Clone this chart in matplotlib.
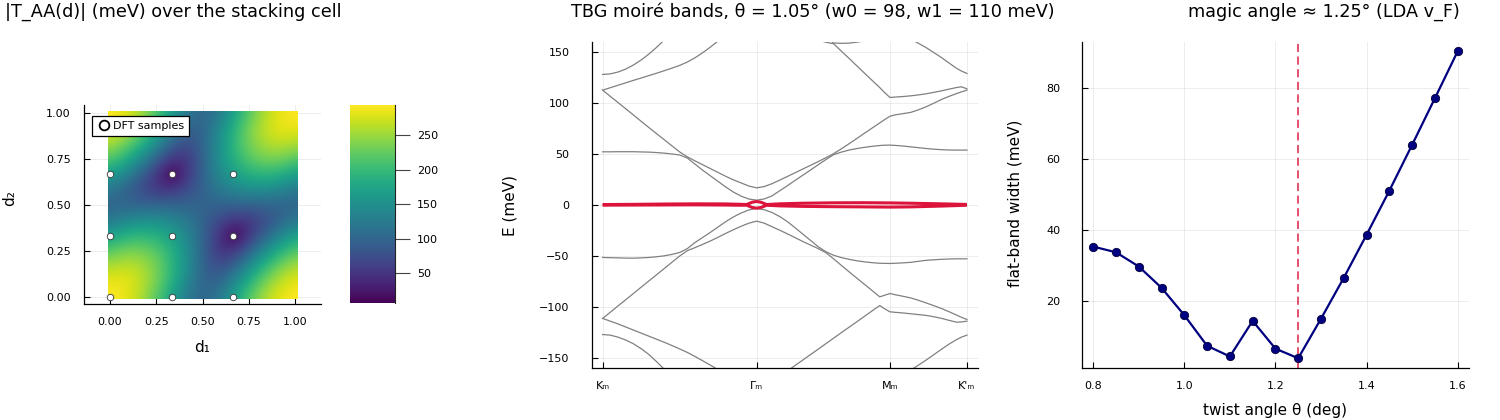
import numpy as np
import matplotlib
matplotlib.use("Agg")
import matplotlib.pyplot as plt
from matplotlib.patches import Rectangle
from matplotlib.lines import Line2D

# ---------------- data ----------------
# |T_AA(d)| (meV) read on a 13x13 grid, d1 (columns) and d2 (rows) = 0, 1/12, ..., 1
d_grid = [i / 12 for i in range(13)]
T_AA = [
    [294, 285, 259, 219, 170, 121, 98, 121, 170, 219, 259, 285, 294],
    [285, 285, 268, 235, 189, 139, 98, 98, 139, 189, 235, 268, 285],
    [259, 268, 259, 235, 196, 148, 98, 72, 98, 148, 196, 235, 259],
    [219, 235, 235, 219, 189, 148, 98, 51, 51, 98, 148, 189, 219],
    [170, 189, 196, 189, 170, 139, 98, 51, 0, 51, 98, 139, 170],
    [121, 139, 148, 148, 139, 121, 98, 72, 51, 51, 72, 98, 121],
    [98, 98, 98, 98, 98, 98, 98, 98, 98, 98, 98, 98, 98],
    [121, 98, 72, 51, 51, 72, 98, 121, 139, 148, 148, 139, 121],
    [170, 139, 98, 51, 0, 51, 98, 139, 170, 189, 196, 189, 170],
    [219, 189, 148, 98, 51, 51, 98, 148, 189, 219, 235, 235, 219],
    [259, 235, 196, 148, 98, 72, 98, 148, 196, 235, 259, 268, 259],
    [285, 268, 235, 189, 139, 98, 98, 139, 189, 235, 268, 285, 285],
    [294, 285, 259, 219, 170, 121, 98, 121, 170, 219, 259, 285, 294],
]
dft_d1 = [0, 1/3, 2/3, 0, 1/3, 2/3, 0, 1/3, 2/3]
dft_d2 = [0, 0, 0, 1/3, 1/3, 1/3, 2/3, 2/3, 2/3]
cbar_ticks = [50, 100, 150, 200, 250]

# band structure along K_m - Gamma_m - M_m - K'_m (path length units)
k_path = [0, 0.05, 0.1, 0.15, 0.2, 0.25, 0.3, 0.35, 0.4, 0.45, 0.5, 0.55, 0.6, 0.65, 0.7,
          0.75, 0.8, 0.85, 0.9, 0.95, 1.0, 1.05, 1.1, 1.15, 1.2, 1.25, 1.3, 1.35, 1.4, 1.45,
          1.5, 1.55, 1.6, 1.65, 1.7, 1.75, 1.8, 1.83, 1.866, 1.9, 1.95, 2.0, 2.05, 2.1, 2.15,
          2.2, 2.25, 2.3, 2.33, 2.366]
band_u1 = [52.1, 52.1, 52.2, 52.2, 52.2, 52.0, 51.8, 51.4, 50.8, 50.0, 49.0, 46.0, 40.0, 34.0,
           28.5, 23.0, 17.5, 12.5, 8.5, 5.7, 4.6, 5.8, 8.8, 13.8, 18.8, 24.0, 29.1, 34.2, 39.4,
           44.5, 49.3, 51.8, 53.8, 55.3, 56.5, 57.5, 58.3, 58.6, 58.7, 58.4, 57.8, 57.0, 56.2,
           55.4, 54.7, 54.2, 53.9, 53.8, 53.8, 53.8]
band_u2 = [112.7, 106.6, 100.5, 94.4, 88.3, 82.1, 76.0, 70.0, 64.0, 58.0, 52.0, 47.2, 43.2,
           39.4, 35.6, 31.8, 28.0, 24.5, 21.5, 18.5, 16.7, 18.0, 20.8, 24.3, 27.9, 31.5, 35.2,
           38.8, 42.5, 46.3, 50.3, 55.0, 60.0, 65.1, 70.3, 75.4, 80.5, 83.6, 87.1, 88.4, 89.6,
           90.8, 93.3, 96.3, 99.8, 103.5, 106.6, 109.4, 111.0, 112.7]
band_u3 = [112.7, 115.1, 117.5, 119.9, 122.3, 124.6, 127.0, 129.3, 131.8, 134.3, 137.0, 140.3,
           144.5, 149.5, 155.0, 161, 167, 173, 178, 182, 184, 183, 180, 177, 173, 169.5, 166.5,
           163.9, 161.8, 159.8, 158.3, 151.1, 144.0, 136.7, 129.5, 122.3, 115.2, 110.5, 105.5,
           105.9, 106.4, 107.1, 108.0, 109.1, 110.5, 112.0, 113.7, 115.3, 116.0, 114.0]
band_u4 = [128.1, 128.7, 130.5, 133.4, 137.4, 142.3, 148.1, 154.7, 162, 169, 176, 182, 188, 193,
           198, 202, 206, 209, 212, 214, 215, 214, 212, 209, 204, 196, 187, 180, 172.7, 165.5,
           159.0, 158.7, 158.9, 159.8, 161.0, 163.2, 165.5, 167, 168, 167.5, 166, 163, 158.8,
           154.6, 149.7, 144.8, 139.3, 134.0, 131.5, 129.1]
band_l1 = [-51.7, -51.9, -52.1, -52.3, -52.4, -52.1, -51.7, -51.0, -50.1, -48.7, -46.8, -43.0,
           -37.0, -32.0, -27.0, -21.7, -16.5, -11.8, -8.0, -5.0, -3.6, -4.8, -7.5, -11.5, -16.5,
           -22.5, -28.7, -34.9, -41.1, -46.0, -49.5, -51.8, -53.5, -54.9, -56.0, -56.8, -57.4,
           -57.5, -57.6, -57.4, -57.0, -56.5, -55.5, -54.5, -54.0, -53.5, -53.2, -53.0, -53.0,
           -53.0]
band_l2 = [-111.6, -105.5, -99.3, -93.2, -87.1, -80.9, -74.8, -68.7, -62.6, -56.4, -50.3, -45.0,
           -42.0, -38.8, -35.5, -31.8, -28.0, -24.4, -21.0, -18.0, -16.0, -18.0, -21.5, -24.9,
           -28.5, -32.2, -36.0, -39.5, -43.0, -47.0, -53.0, -59.4, -65.7, -71.9, -78.0, -84.2,
           -90.4, -88.9, -87.1, -88.3, -89.8, -91.4, -93.7, -96.3, -99.0, -101.8, -105.0,
           -108.4, -110.5, -112.6]
band_l3 = [-111.6, -114.3, -117.0, -120.0, -123.0, -126.0, -129.0, -132.0, -135.0, -138.2,
           -141.5, -145.0, -149.0, -153.2, -157.5, -162, -167, -172, -177, -181, -184, -183,
           -178, -170, -163.2, -157.8, -152.5, -147.1, -141.8, -136.4, -131.0, -125.6, -120.3,
           -115.0, -109.6, -104.2, -98.9, -102.0, -105.1, -105.6, -106.2, -107.0, -107.8,
           -108.6, -109.9, -111.5, -113.5, -115.3, -115.0, -114.3]
band_l4 = [-127.4, -128.0, -130.0, -132.8, -136.5, -141.3, -147.0, -154.0, -161.5, -169, -176,
           -182, -188, -193, -198, -202, -206, -209, -212, -214, -215, -214, -212, -209, -205,
           -201, -198, -194, -190, -186, -182, -179, -176, -174.5, -173, -172, -171, -171, -171,
           -169.5, -167, -162.5, -157.6, -152.6, -147.3, -142.0, -136.8, -132.3, -130.0, -128.0]
remote_bands = [band_l4, band_l3, band_l2, band_l1, band_u1, band_u2, band_u3, band_u4]

k_flat = [0, 0.2, 0.4, 0.6, 0.8, 0.9, 0.935, 0.97, 1.0, 1.03, 1.065, 1.15, 1.3, 1.5, 1.7,
          1.866, 2.0, 2.2, 2.366]
flat_plus = [0.3, 0.5, 0.8, 1.0, 0.9, 0.5, 0.3, 2.5, 3.3, 2.5, 0.3, 1.0, 1.6, 2.0, 2.1, 1.9,
             1.6, 1.0, 0.4]
flat_minus = [-0.3, -0.2, -0.1, 0.0, -0.2, -0.4, -0.3, -2.5, -3.3, -2.5, -0.4, -1.0, -1.5,
              -1.8, -2.0, -2.2, -2.0, -1.2, -0.4]
hs_k = [0, 1.0, 1.866, 2.366]
hs_labels = ["Kₘ", "Γₘ", "Mₘ", "K'ₘ"]
E_ticks = [-150, -100, -50, 0, 50, 100, 150]

# flat-band width vs twist angle
theta = [0.80, 0.85, 0.90, 0.95, 1.00, 1.05, 1.10, 1.15, 1.20, 1.25, 1.30, 1.35, 1.40,
         1.45, 1.50, 1.55, 1.60]
width = [35.3, 33.7, 29.7, 23.7, 16.0, 7.4, 4.4, 14.4, 6.6, 3.9, 15.0, 26.5, 38.6, 51.0,
         63.9, 77.0, 90.2]
magic_theta = 1.25

# ---------------- figure ----------------
W, H = 1500, 420
fig = plt.figure(figsize=(15, 4.2), dpi=100)


def box(l, t, r, b):
    return [l / W, 1 - b / H, (r - l) / W, (b - t) / H]


grid_kw = dict(color="k", alpha=0.1, lw=0.5)
tick_kw = dict(direction="in", length=4, width=0.8, labelsize=8, color="k")


def style(ax):
    for s in ["top", "right"]:
        ax.spines[s].set_visible(False)
    for s in ["left", "bottom"]:
        ax.spines[s].set_linewidth(0.9)
    ax.grid(True, **grid_kw)
    ax.set_axisbelow(True)


# ---- left: heatmap ----
axh = fig.add_axes(box(84, 105, 321, 304))
style(axh)
im = axh.imshow(np.array(T_AA), origin="lower", extent=(-1/24, 25/24, -1/24, 25/24),
                interpolation="bicubic", cmap="viridis", vmin=6.6, vmax=293.4,
                aspect="auto", zorder=1)
half = 1 / 98
im.set_clip_path(Rectangle((-half, -half), 1 + 2 * half, 1 + 2 * half,
                           transform=axh.transData))
axh.scatter(dft_d1, dft_d2, s=22, facecolor="white", edgecolor="#333333", lw=0.6, zorder=3)
axh.set_xlim(-0.14, 1.139)
axh.set_ylim(-0.038, 1.042)
axh.set_xticks([0, 0.25, 0.5, 0.75, 1.0])
axh.set_yticks([0, 0.25, 0.5, 0.75, 1.0])
axh.set_xticklabels(["0.00", "0.25", "0.50", "0.75", "1.00"])
axh.set_yticklabels(["0.00", "0.25", "0.50", "0.75", "1.00"])
axh.tick_params(axis="x", pad=9.5, **tick_kw)
axh.tick_params(axis="y", pad=9.4, **tick_kw)
handle = Line2D([], [], marker="o", ls="", mfc="white", mec="black", mew=1.3, ms=7)
leg = axh.legend([handle], ["DFT samples"], loc="upper left", bbox_to_anchor=(0.034, 0.945),
                 borderaxespad=0, fontsize=8, fancybox=False, framealpha=1,
                 handletextpad=0.1, borderpad=0.45, handlelength=1.3)
leg.get_frame().set_edgecolor("black")
leg.get_frame().set_linewidth(0.9)
leg.set_zorder(5)

cax = fig.add_axes(box(350, 105, 395, 303.3))
cb = fig.colorbar(im, cax=cax, ticks=cbar_ticks)
cb.outline.set_visible(False)
cax.tick_params(direction="out", length=10.8, width=0.8, labelsize=8, pad=5, color="#444444")
cax.plot([1, 1], [0, 1], transform=cax.transAxes, color="#222222", lw=0.8, clip_on=False)

# ---- middle: bands ----
axb = fig.add_axes(box(591.7, 42, 977.7, 367.7))
style(axb)
for band in remote_bands:
    axb.plot(k_path, band, color="#808080", lw=0.9, zorder=2)
for band in [flat_plus, flat_minus]:
    axb.plot(k_flat, band, color="#DC143C", lw=2.2, zorder=3, solid_capstyle="butt")
axb.set_xlim(-0.071, 2.436)
axb.set_ylim(-160, 160)
axb.set_xticks(hs_k)
axb.set_xticklabels(hs_labels)
axb.set_yticks(E_ticks)
axb.tick_params(axis="x", pad=9.5, **tick_kw)
axb.tick_params(axis="y", pad=16, **tick_kw)

# ---- right: bandwidth ----
axw = fig.add_axes(box(1082.3, 42, 1469, 367.7))
style(axw)
axw.axvline(magic_theta, color="#DC143C", alpha=0.8, lw=1.3, ls=(0, (4.5, 2.5)), zorder=2)
axw.plot(theta, width, color="#000080", lw=1.6, marker="o", ms=6, mfc="#000080",
         mec="#00003a", mew=0.6, zorder=3)
axw.set_xlim(0.776, 1.625)
axw.set_ylim(1.24, 92.85)
axw.set_xticks([0.8, 1.0, 1.2, 1.4, 1.6])
axw.set_yticks([20, 40, 60, 80])
axw.tick_params(axis="x", pad=9.5, **tick_kw)
axw.tick_params(axis="y", pad=16, **tick_kw)

# ---- titles and labels ----
tfs = 12.7
fig.text(173 / W, 1 - 12 / H, "|T_AA(d)| (meV) over the stacking cell", ha="center",
         va="center", fontsize=tfs)
fig.text(813 / W, 1 - 12 / H, "TBG moiré bands, θ = 1.05° (w0 = 98, w1 = 110 meV)",
         ha="center", va="center", fontsize=tfs)
fig.text(1324 / W, 1 - 12 / H, "magic angle ≈ 1.25° (LDA v_F)", ha="center", va="center",
         fontsize=tfs)

lfs = 11
fig.text(201.7 / W, 1 - 348 / H, "d₁", ha="center", va="center", fontsize=lfs)
fig.text(10 / W, 1 - 198 / H, "d₂", ha="center", va="center", fontsize=lfs, rotation=90)
fig.text(510 / W, 1 - 205 / H, "E (meV)", ha="center", va="center", fontsize=lfs, rotation=90)
fig.text(1015 / W, 1 - 203 / H, "flat-band width (meV)", ha="center", va="center",
         fontsize=lfs, rotation=90)
fig.text(1275 / W, 1 - 410 / H, "twist angle θ (deg)", ha="center", va="center", fontsize=lfs)

fig.savefig("out.png", dpi=100)
